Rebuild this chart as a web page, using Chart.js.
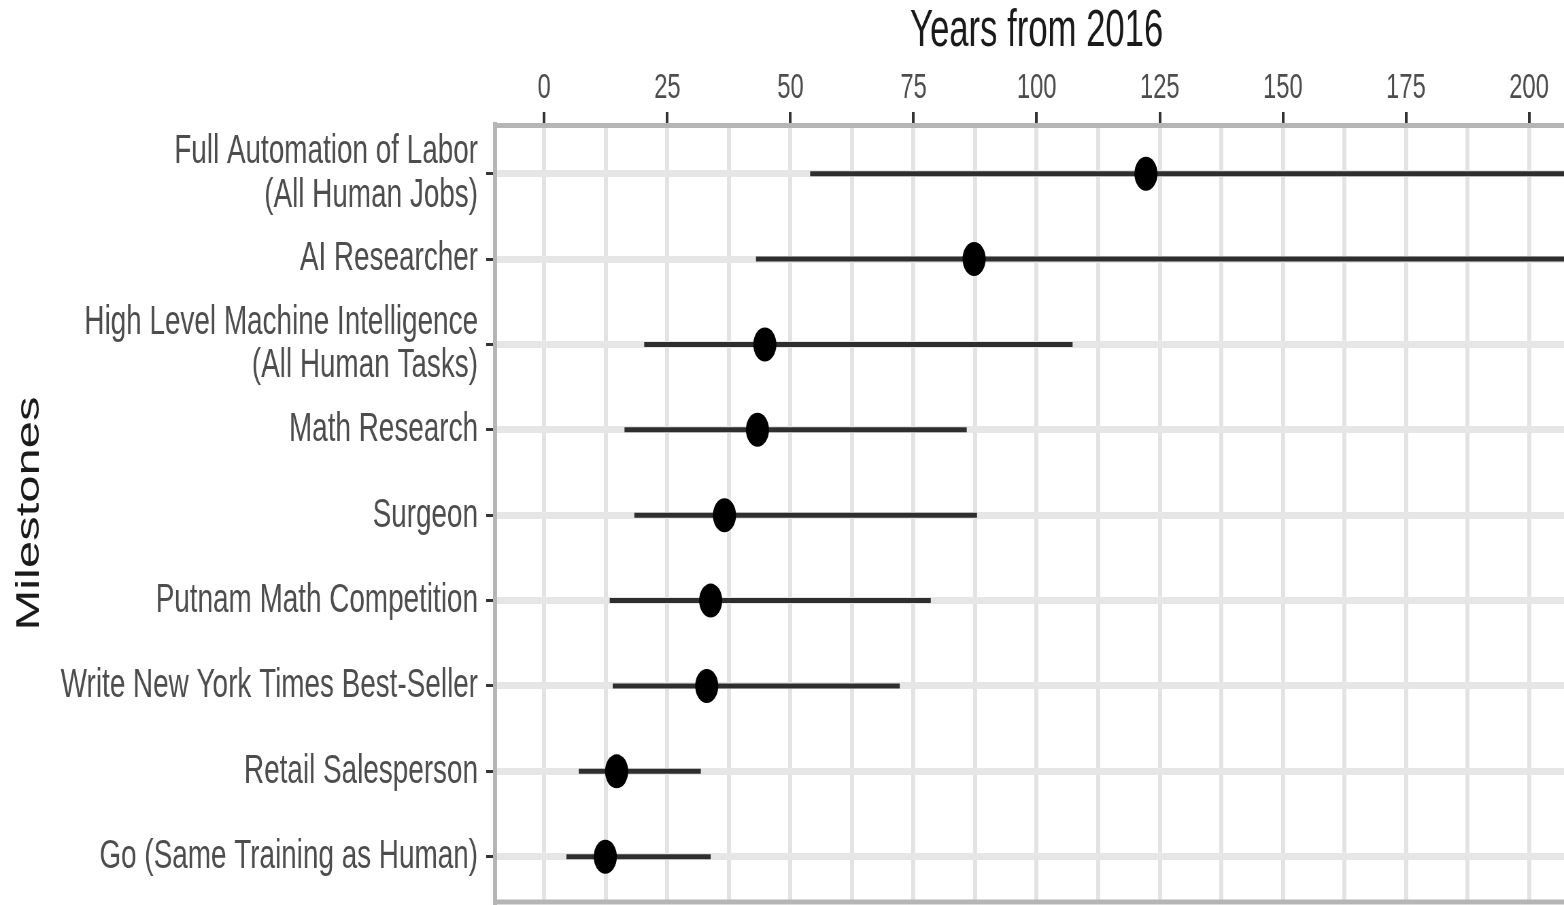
<!DOCTYPE html>
<html>
<head>
<meta charset="utf-8">
<title>Milestones</title>
<script src="https://cdn.jsdelivr.net/npm/chart.js@4"></script>
<style>
    html, body { margin: 0; padding: 0; background: #fff; overflow: hidden; }
    /* the original picture is squeezed sideways, so the whole chart is drawn wide and squeezed back */
    #wrap { position: relative; width: 2321px; height: 905px; transform: scaleX(0.68); transform-origin: 0 0; }
</style>
</head>
<body>
<div id="wrap"><canvas id="milestoneChart"></canvas></div>
<script>
const milestones = [
    ['Full Automation of Labor', '(All Human Jobs)'],
    'AI Researcher',
    ['High Level Machine Intelligence', '(All Human Tasks)'],
    'Math Research',
    'Surgeon',
    'Putnam Math Competition',
    'Write New York Times Best-Seller',
    'Retail Salesperson',
    'Go (Same Training as Human)'
];
const medianYears = [122.2, 87.3, 44.8, 43.3, 36.6, 33.8, 33.0, 14.7, 12.4];
const lowYears    = [54.0, 43.0, 20.3, 16.3, 18.3, 13.3, 13.9, 7.0, 4.5];
const highYears   = [245, 230, 107.3, 85.8, 87.9, 78.5, 72.2, 31.8, 33.8];
const xTickValues = [0, 12.5, 25, 37.5, 50, 62.5, 75, 87.5, 100, 112.5, 125, 137.5, 150, 162.5, 175, 187.5, 200];

const squeeze = 0.68;

Chart.defaults.font.family = "'Liberation Sans', Arial, sans-serif";

const panelBorder = {
    id: 'panelBorder',
    beforeDatasetsDraw(chart) {
        const { ctx, chartArea: a } = chart;
        ctx.save();
        ctx.strokeStyle = '#b5b5b5';
        ctx.lineWidth = 5;
        ctx.beginPath();
        ctx.moveTo(a.left, a.bottom);
        ctx.lineTo(a.right, a.bottom);
        ctx.stroke();
        ctx.restore();
    }
};

const datasets = milestones.map((m, i) => ({
    type: 'line',
    order: 1,
    data: [{ x: lowYears[i], y: i }, { x: highYears[i], y: i }],
    borderColor: '#2e2e2e',
    borderWidth: 5,
    pointRadius: 0,
    fill: false
}));

datasets.push({
    type: 'scatter',
    order: 0,
    data: medianYears.map((v, i) => ({ x: v, y: i })),
    backgroundColor: '#000',
    borderWidth: 0,
    pointRadius: 17
});

new Chart(document.getElementById('milestoneChart'), {
    type: 'scatter',
    data: { datasets: datasets },
    plugins: [panelBorder],
    options: {
        responsive: true,
        maintainAspectRatio: false,
        animation: false,
        layout: { autoPadding: false, padding: { top: 0, left: 0, right: 0, bottom: 3 } },
        plugins: {
            legend: { display: false },
            tooltip: { enabled: false }
        },
        scales: {
            x: {
                type: 'linear',
                position: 'top',
                min: -10,
                max: 210,
                bounds: 'data',
                afterBuildTicks: s => { s.ticks = xTickValues.map(v => ({ value: v })); },
                afterFit: s => {
                    s.height = 125;
                    s.paddingLeft = 0;
                    s.paddingRight = 0;
                },
                ticks: {
                    callback: v => (v % 25 === 0 ? String(v) : ''),
                    color: '#4d4d4d',
                    font: { size: 35 },
                    padding: 3,
                    maxRotation: 0,
                    autoSkip: false
                },
                grid: {
                    color: '#e3e3e3',
                    lineWidth: 6,
                    tickLength: 13,
                    tickWidth: 4,
                    tickColor: ctx => (ctx.tick && ctx.tick.value % 25 === 0 ? '#333' : 'rgba(0,0,0,0)')
                },
                border: { color: '#b5b5b5', width: 5 },
                title: {
                    display: true,
                    text: 'Years from 2016',
                    color: '#1a1a1a',
                    font: { size: 51 },
                    padding: { top: 1, bottom: 0 }
                }
            },
            y: {
                type: 'linear',
                reverse: true,
                min: -0.57,
                max: 8.53,
                bounds: 'data',
                afterBuildTicks: s => { s.ticks = milestones.map((m, i) => ({ value: i })); },
                afterFit: s => {
                    s.width = 495 / squeeze;
                    s.paddingTop = 0;
                    s.paddingBottom = 0;
                },
                ticks: {
                    callback: v => milestones[v],
                    color: '#4d4d4d',
                    font: { size: 41, lineHeight: 1.06 },
                    padding: 12,
                    autoSkip: false
                },
                grid: {
                    color: '#e6e6e6',
                    lineWidth: 7,
                    tickLength: 13,
                    tickWidth: 3,
                    tickColor: '#333'
                },
                border: { color: '#b5b5b5', width: 6 },
                title: {
                    display: true,
                    text: 'Milestones',
                    color: '#1a1a1a',
                    font: { size: 49 },
                    padding: { top: 14 }
                }
            }
        }
    }
});
</script>
</body>
</html>
